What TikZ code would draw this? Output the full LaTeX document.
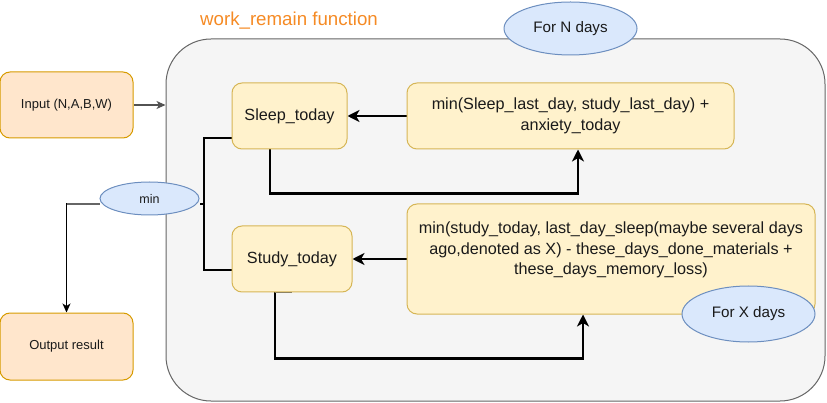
\documentclass[tikz,border=0pt]{standalone}
\usepackage{fontspec}
\setmainfont{Liberation Sans}
\usetikzlibrary{shapes.geometric,arrows.meta}
\pgfdeclarelayer{bg}
\pgfdeclarelayer{lines}
\pgfsetlayers{bg,lines,main}
\definecolor{orfill}{HTML}{FFE6CC}
\definecolor{ordraw}{HTML}{D79B00}
\definecolor{yefill}{HTML}{FFF2CC}
\definecolor{yedraw}{HTML}{D6B656}
\definecolor{blfill}{HTML}{DAE8FC}
\definecolor{bldraw}{HTML}{6C8EBF}
\definecolor{cofill}{HTML}{F5F5F5}
\definecolor{codraw}{HTML}{666666}
\definecolor{titlec}{RGB}{245,138,36}
\definecolor{txt}{HTML}{1A1A1A}
\tikzset{
  orbox/.style={draw=ordraw,fill=orfill,rounded corners=10pt,line width=1pt,inner sep=0pt,text=txt,font=\fontsize{13}{15.6}\selectfont},
  yebox/.style={draw=yedraw,fill=yefill,rounded corners=10pt,line width=1pt,inner sep=0pt,text=txt,font=\fontsize{16.2}{20.5}\selectfont,align=center},
  blell/.style={ellipse,draw=bldraw,fill=blfill,line width=1pt,inner sep=0pt,text=txt},
  thickarr/.style={line width=2.2pt,black,-{Stealth[length=12pt,width=12pt,inset=3.5pt]}},
  thickline/.style={line width=2.2pt,black},
  thinarr/.style={line width=1.1pt,-{Stealth[length=9pt,width=8pt,inset=2.5pt]}},
}
\begin{document}
\begin{tikzpicture}[x=1pt,y=-1pt]
\useasboundingbox (0,0) rectangle (827,403);
\begin{pgfonlayer}{bg}
\node[draw=codraw,fill=cofill,line width=1pt,rounded corners=45pt,minimum width=659pt,minimum height=362pt,inner sep=0pt] (cont) at (495.5,220) {};
\end{pgfonlayer}
\node[font=\fontsize{18.7}{22}\selectfont,text=titlec,anchor=base] (title) at (289,26) {work\_remain function};
\node[orbox,minimum width=133pt,minimum height=66pt] (in) at (66.5,105) {Input (N,A,B,W)};
\node[orbox,minimum width=133pt,minimum height=67pt] (out) at (66.5,346.5) {Output result};
\node[yebox,minimum width=115pt,minimum height=66pt] (sleep) at (289.5,116) {Sleep\_today};
\node[yebox,minimum width=120pt,minimum height=66pt] (study) at (292,259) {Study\_today};
\node[yebox,minimum width=327pt,minimum height=66pt] (f1) at (570.5,116) {min(Sleep\_last\_day, study\_last\_day) +\\anxiety\_today};
\node[yebox,minimum width=408pt,minimum height=110pt] (f2) at (611,259) {};
\node[yebox,draw=none,fill=none] (f2text) at (611,250) {min(study\_today, last\_day\_sleep(maybe several days\\ago,denoted as X) - these\_days\_done\_materials +\\these\_days\_memory\_loss)};
\node[blell,minimum width=133pt,minimum height=53pt,font=\fontsize{15.2}{18}\selectfont] (nd) at (570.5,28.5) {For N days};
\node[blell,minimum width=133pt,minimum height=56pt,font=\fontsize{15.2}{18}\selectfont] (xd) at (748.5,314) {For X days};
\node[blell,minimum width=99pt,minimum height=33pt,font=\fontsize{12.5}{15}\selectfont] (minell) at (149.5,198.5) {min};
\coordinate (j) at (204,204);
\begin{pgfonlayer}{lines}
\draw[thinarr,codraw!80!black] (in.east) -- (in.east -| cont.west);
\draw[thickarr] (f1.west) -- (sleep.east);
\draw[thickarr] (f2.west |- study.east) -- (study.east);
\draw[thickarr] ([xshift=-19.5pt]sleep.south) |- ([xshift=7.5pt,yshift=-44pt]f1.south) -- ([xshift=7.5pt]f1.south);
\draw[thickarr] ([xshift=-17pt]study.south) |- ([xshift=-28pt,yshift=-44pt]f2.south) -- ([xshift=-28pt]f2.south);
\draw[line width=1.5pt,codraw] ([xshift=-17pt]study.south) -- ([xshift=0pt]study.south);
\draw[thickline] ([yshift=-22pt]sleep.west) -| (j) |- ([yshift=-11pt]study.west);
\draw[thickline] (j) -- (j -| minell.east);
\draw[thinarr,black] (minell.west |- j) -| (out.north);
\draw[line width=1.5pt,codraw] (minell.west |- j) -- ++(-33,0);
\end{pgfonlayer}
\end{tikzpicture}
\end{document}
